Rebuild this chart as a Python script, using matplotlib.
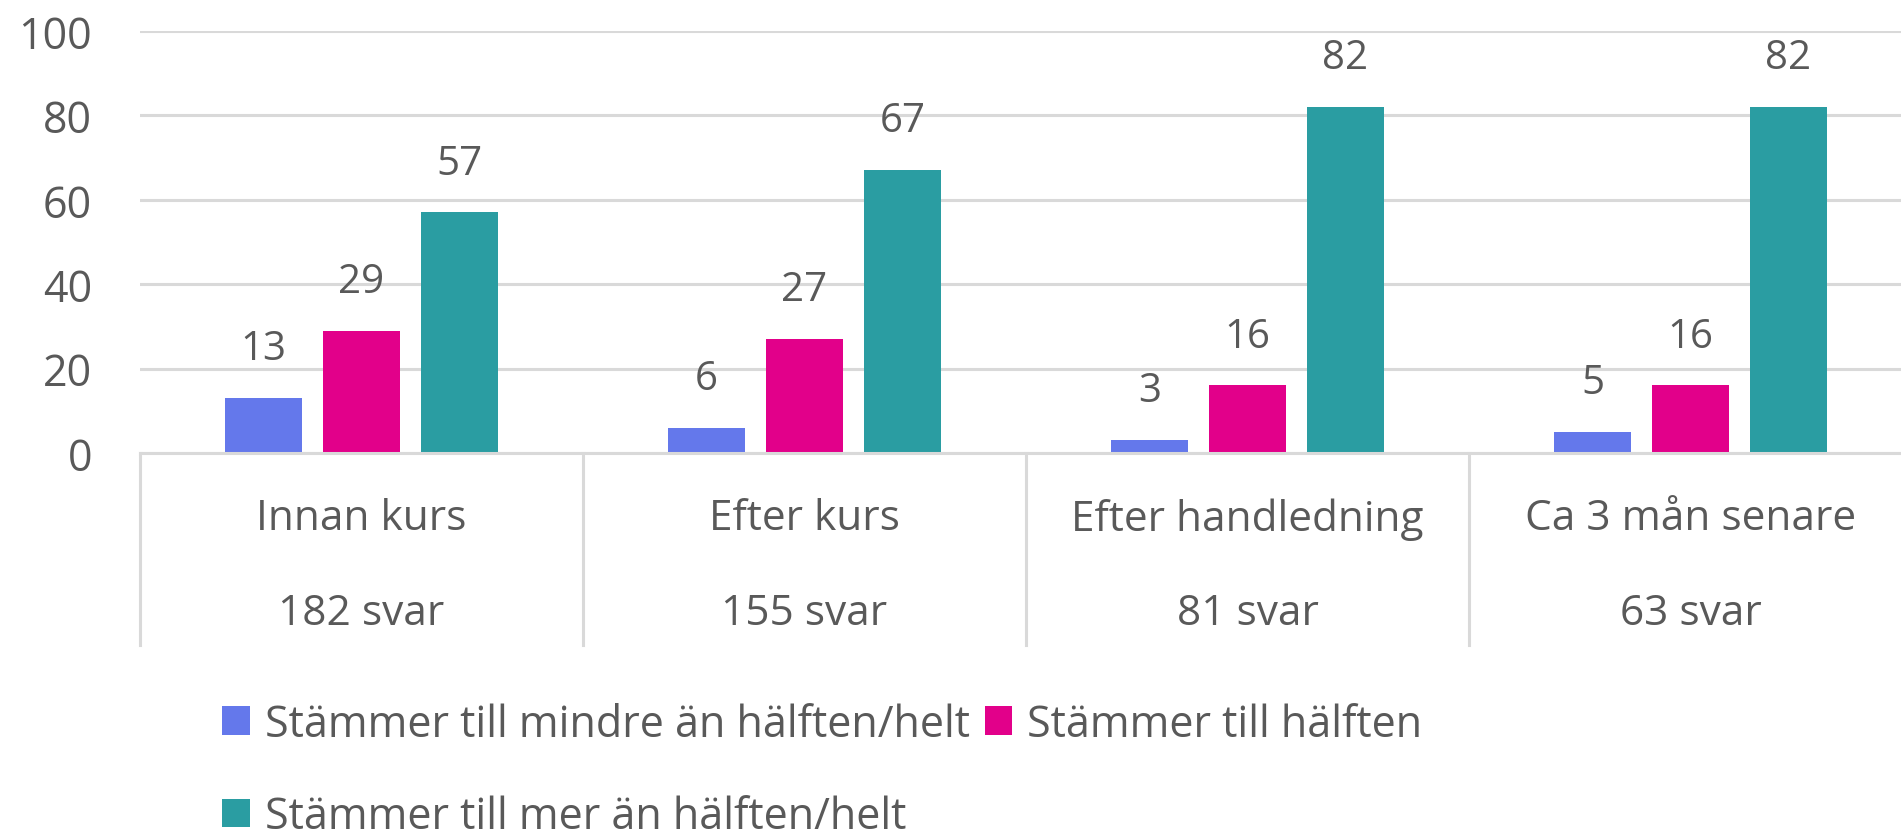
import matplotlib.pyplot as plt
import numpy as np

plt.rcParams['font.family'] = ['Open Sans', 'DejaVu Sans']

kategorier = ['Innan kurs', 'Efter kurs', 'Efter handledning', 'Ca 3 mån senare']
antal_svar = ['182 svar', '155 svar', '81 svar', '63 svar']
serier = ['Stämmer till mindre än hälften/helt', 'Stämmer till hälften',
          'Stämmer till mer än hälften/helt']
mindre = [13, 6, 3, 5]
halften = [29, 27, 16, 16]
mer = [57, 67, 82, 82]
y_ticks = [0, 20, 40, 60, 80, 100]

farger = ['#6478EB', '#E2008A', '#2A9DA2']
text_farg = '#595959'
grid_farg = '#D9D9D9'

fig = plt.figure(figsize=(19.01, 8.37), dpi=100)
ax = fig.add_axes([0.0736, 0.4576, 0.9322, 0.5042])

x = np.arange(len(kategorier))
width = 0.175
offset = 0.221

bars = []
for i, (vals, col) in enumerate(zip([mindre, halften, mer], farger)):
    b = ax.bar(x + (i - 1) * offset, vals, width, color=col, label=serier[i], zorder=3)
    bars.append(b)
    for xi, v in zip(x + (i - 1) * offset, vals):
        ax.annotate(f'{v}', (xi, v), xytext=(0, 28), textcoords='offset points',
                    ha='center', va='baseline', fontsize=29, color=text_farg)

ax.set_xlim(-0.5, 3.5)
ax.set_ylim(0, 100)
ax.set_yticks(y_ticks)
ax.tick_params(axis='y', length=0, labelsize=31, labelcolor=text_farg, pad=34.5)
ax.set_xticks([])
ax.grid(axis='y', color=grid_farg, linewidth=2.2, zorder=0)
for s in ['top', 'right', 'left']:
    ax.spines[s].set_visible(False)
ax.spines['bottom'].set_color(grid_farg)
ax.spines['bottom'].set_linewidth(2.2)
ax.spines['bottom'].set_zorder(4)

trans = ax.get_xaxis_transform()
for xi, kat, n in zip(x, kategorier, antal_svar):
    ax.text(xi, -0.155, kat, transform=trans, ha='center', va='center',
            fontsize=30.5, color=text_farg)
    ax.text(xi, -0.378, n, transform=trans, ha='center', va='center',
            fontsize=30.5, color=text_farg)
for sep in np.arange(-0.5, 4, 1):
    ax.plot([sep, sep], [0, -0.455], transform=trans, color=grid_farg,
            linewidth=2.2, clip_on=False)

# legend: ordning så att rad 1 får två poster
handles = [bars[0], bars[2], bars[1]]
labels = [serier[0], serier[2], serier[1]]
fig.legend(handles, labels, ncol=2, loc='upper left', bbox_to_anchor=(0.1168, 0.160),
           frameon=False, fontsize=31, labelcolor=text_farg, handlelength=0.64,
           handleheight=0.64, handletextpad=0.35, columnspacing=0.35, labelspacing=1.12,
           borderaxespad=0, borderpad=0)

fig.savefig('out.png', dpi=100)
